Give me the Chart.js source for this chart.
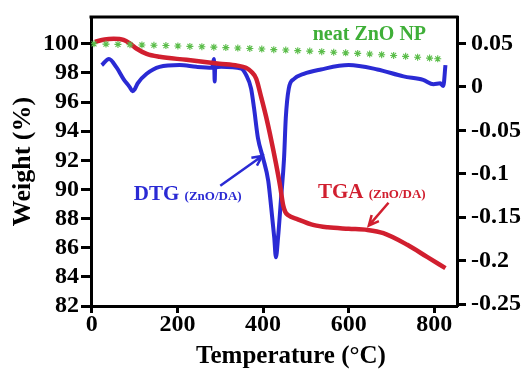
<!DOCTYPE html>
<html lang="en">
<head>
<meta charset="UTF-8">
<title>TGA / DTG ZnO/DA</title>
<script src="https://cdn.jsdelivr.net/npm/chart.js@4.4.1/dist/chart.umd.min.js"></script>
<style>
  html, body { margin: 0; padding: 0; background: #fff; }
  #wrap { width: 527px; height: 369px; }
</style>
</head>
<body>
<div id="wrap"><canvas id="chart" width="527" height="369"></canvas></div>
<script>
// TGA (ZnO/DA): temperature (°C) and weight (%)
const tgaTemp   = [7, 30, 51, 74, 90, 105, 128, 158, 221, 298, 340, 360, 372, 384, 395, 407, 419, 430, 440, 447, 452, 458, 481, 519, 551, 600, 644, 681, 737, 784, 826];
const tgaWeight = [100.13, 100.3, 100.34, 100.27, 100.0, 99.66, 99.31, 99.11, 98.9, 98.63, 98.5, 98.35, 98.1, 97.6, 96.4, 95.0, 93.4, 91.8, 90.2, 88.9, 88.45, 88.25, 87.95, 87.55, 87.4, 87.3, 87.22, 87.0, 86.2, 85.35, 84.6];

// DTG (ZnO/DA), right axis
const dtgTemp  = [23, 40, 58, 74, 88, 95, 100, 107, 128, 158, 205, 244, 281, 285, 286, 287, 288, 302, 349, 360, 372, 379, 388, 400, 412, 419, 426, 430, 435, 442, 449, 453, 460, 472, 495, 535, 600, 667, 728, 774, 798, 814, 821, 826];
const dtgValue = [0.025, 0.032, 0.022, 0.009, 0.0, -0.005, -0.003, 0.004, 0.015, 0.023, 0.025, 0.023, 0.022, 0.032, 0.022, 0.006, 0.022, 0.023, 0.021, 0.014, -0.002, -0.025, -0.059, -0.082, -0.108, -0.139, -0.173, -0.196, -0.173, -0.128, -0.082, -0.036, -0.002, 0.009, 0.015, 0.020, 0.025, 0.020, 0.012, 0.008, 0.003, 0.004, 0.001, 0.025];

// neat ZnO NP (star markers)
const zincTemp   = [5, 33, 61, 89, 117, 145, 173, 201, 229, 257, 285, 313, 341, 369, 397, 425, 453, 481, 509, 537, 565, 593, 621, 649, 677, 705, 733, 761, 789, 808];
const zincWeight = [100.0, 99.98, 99.96, 99.94, 99.92, 99.9, 99.88, 99.85, 99.82, 99.8, 99.77, 99.74, 99.71, 99.68, 99.64, 99.6, 99.57, 99.53, 99.5, 99.46, 99.42, 99.38, 99.34, 99.3, 99.25, 99.2, 99.14, 99.08, 99.02, 98.97];

const xTicks = [0, 200, 400, 600, 800];
const weightTicks = [82, 84, 86, 88, 90, 92, 94, 96, 98, 100];
const dtgTicks = [-0.25, -0.2, -0.15, -0.1, -0.05, 0, 0.05];

const RED = '#d11f2f', BLUE = '#2a2ad4', GREEN = '#3faf38', STAR = '#5bbd4a';
const FONT = '"Liberation Serif", "Times New Roman", serif';
const tickFont = { family: FONT, size: 24, weight: 'bold', lineHeight: 1 };

function pts(xs, ys) {
  return xs.map(function (x, i) { return { x: x, y: ys[i] }; });
}

function setTicks(list) {
  return function (scale) { scale.ticks = list.map(function (v) { return { value: v }; }); };
}

function arrow(ctx, x0, y0, x1, y1, color) {
  var ang = Math.atan2(y1 - y0, x1 - x0), h = 11;
  ctx.strokeStyle = color;
  ctx.lineWidth = 2.5;
  ctx.beginPath();
  ctx.moveTo(x0, y0);
  ctx.lineTo(x1, y1);
  ctx.moveTo(x1 - h * Math.cos(ang - 0.45), y1 - h * Math.sin(ang - 0.45));
  ctx.lineTo(x1, y1);
  ctx.lineTo(x1 - h * Math.cos(ang + 0.45), y1 - h * Math.sin(ang + 0.45));
  ctx.stroke();
}

function label(ctx, parts, x, y) {
  var cx = x;
  parts.forEach(function (p) {
    ctx.font = 'bold ' + p[1] + 'px ' + FONT;
    ctx.fillStyle = p[2];
    ctx.fillText(p[0], cx, y);
    cx += ctx.measureText(p[0]).width;
  });
}

// frame top, annotations, x title
const extras = {
  id: 'extras',
  afterDraw: function (chart) {
    var ctx = chart.ctx, a = chart.chartArea;
    var sx = chart.scales.x, sy = chart.scales.y;
    ctx.save();
    ctx.strokeStyle = '#000';
    ctx.lineWidth = 3;
    ctx.beginPath();
    ctx.moveTo(a.left - 1.5, a.top);
    ctx.lineTo(a.right + 1.5, a.top);
    ctx.stroke();

    ctx.textBaseline = 'alphabetic';
    ctx.textAlign = 'left';
    label(ctx, [['neat ZnO NP', 20, GREEN]], sx.getPixelForValue(516), sy.getPixelForValue(100.27));
    label(ctx, [['DTG ', 21, BLUE], ['(ZnO/DA)', 13, BLUE]], sx.getPixelForValue(98), sy.getPixelForValue(89.3));
    label(ctx, [['TGA ', 21, RED], ['(ZnO/DA)', 13, RED]], sx.getPixelForValue(528), sy.getPixelForValue(89.43));

    arrow(ctx, sx.getPixelForValue(300), sy.getPixelForValue(90.25), sx.getPixelForValue(398), sy.getPixelForValue(92.3), BLUE);
    arrow(ctx, sx.getPixelForValue(693), sy.getPixelForValue(89.09), sx.getPixelForValue(647), sy.getPixelForValue(87.52), RED);

    ctx.font = 'bold 25px ' + FONT;
    ctx.fillStyle = '#000';
    ctx.textAlign = 'center';
    ctx.fillText('Temperature (°C)', 291, 363);
    ctx.restore();
  }
};

new Chart(document.getElementById('chart').getContext('2d'), {
  type: 'line',
  data: {
    datasets: [{
      label: 'neat ZnO NP',
      data: pts(zincTemp, zincWeight),
      yAxisID: 'y',
      showLine: false,
      pointStyle: 'star',
      pointRadius: 3.5,
      borderColor: STAR,
      borderWidth: 1.1
    }, {
      label: 'TGA',
      data: pts(tgaTemp, tgaWeight),
      yAxisID: 'y',
      borderColor: RED,
      borderWidth: 4.5,
      pointRadius: 0,
      cubicInterpolationMode: 'monotone'
    }, {
      label: 'DTG',
      data: pts(dtgTemp, dtgValue),
      yAxisID: 'y1',
      borderColor: BLUE,
      borderWidth: 4,
      pointRadius: 0,
      cubicInterpolationMode: 'monotone'
    }]
  },
  options: {
    responsive: false,
    animation: false,
    layout: { padding: { top: 15, left: 0, right: 0, bottom: 0 } },
    plugins: { legend: { display: false }, tooltip: { enabled: false } },
    scales: {
      x: {
        type: 'linear',
        min: -2,
        max: 853,
        afterBuildTicks: setTicks(xTicks),
        afterFit: function (s) { s.height = 63; },
        border: { display: true, color: '#000', width: 3 },
        grid: { drawOnChartArea: false, tickLength: 7, tickWidth: 3, tickColor: '#000' },
        ticks: { color: '#000', font: tickFont, padding: 0, maxRotation: 0 }
      },
      y: {
        position: 'left',
        min: 82,
        max: 101.84,
        afterBuildTicks: setTicks(weightTicks),
        afterFit: function (s) { s.width = 91; },
        border: { display: true, color: '#000', width: 3 },
        grid: { drawOnChartArea: false, tickLength: 10, tickWidth: 3, tickColor: '#000' },
        ticks: { color: '#000', font: tickFont, padding: 2 },
        title: {
          display: true,
          text: 'Weight (%)',
          color: '#000',
          font: { family: FONT, size: 26, weight: 'bold', lineHeight: 1.2 },
          padding: { top: 8, bottom: 0 }
        }
      },
      y1: {
        position: 'right',
        min: -0.252,
        max: 0.0803,
        afterBuildTicks: setTicks(dtgTicks),
        afterFit: function (s) { s.width = 70; },
        border: { display: true, color: '#000', width: 3 },
        grid: { drawOnChartArea: false, tickLength: 9, tickWidth: 3, tickColor: '#000' },
        ticks: {
          color: '#000',
          font: tickFont,
          padding: 5,
          callback: function (v) { return String(Number(v.toFixed(2))); }
        }
      }
    }
  },
  plugins: [extras]
});
</script>
</body>
</html>
